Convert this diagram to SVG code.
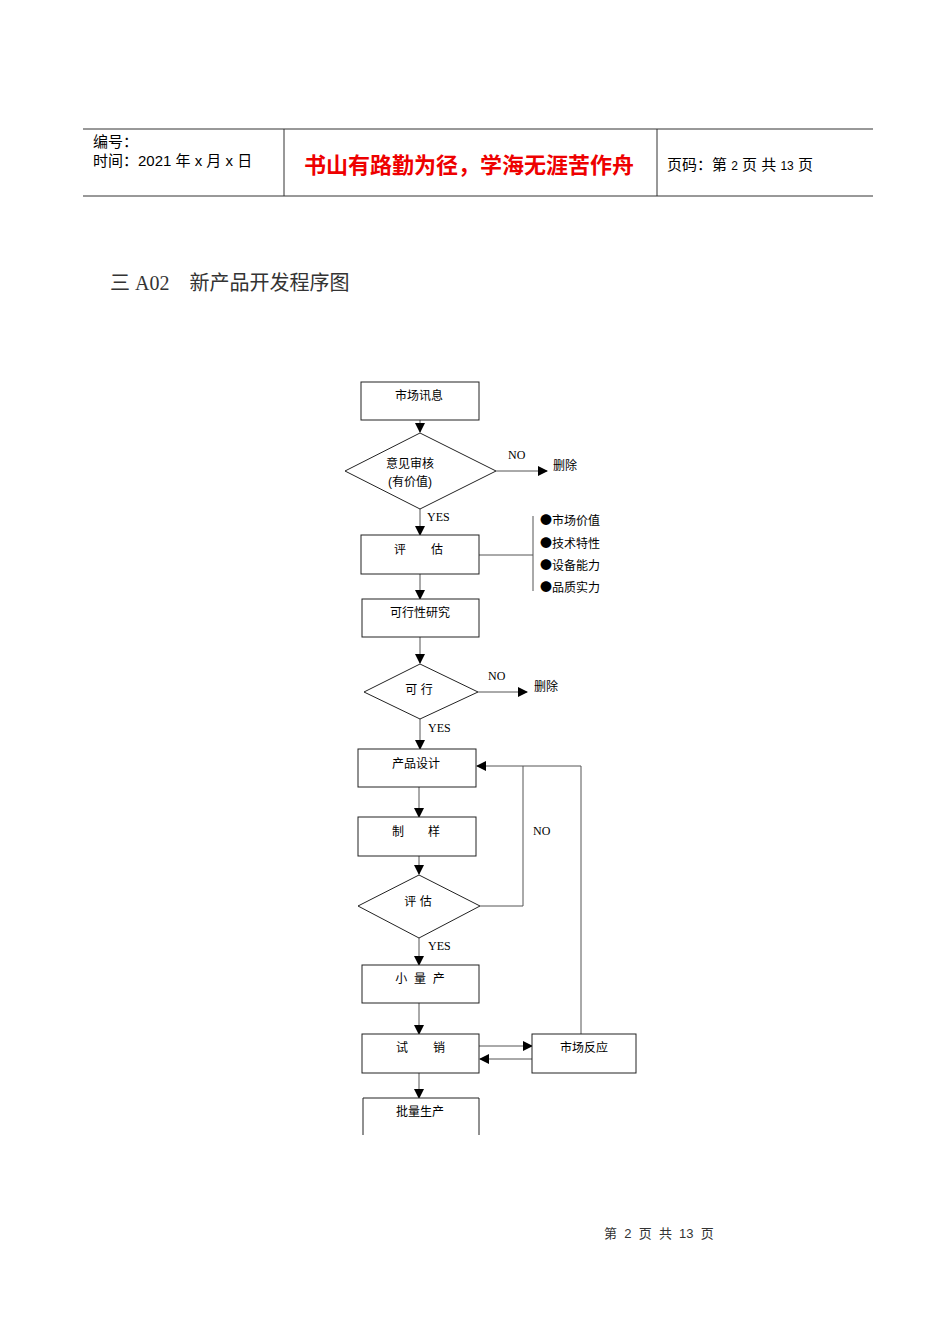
<svg xmlns="http://www.w3.org/2000/svg" width="950" height="1344" viewBox="0 0 950 1344">
<style>
.t{font-family:"Liberation Sans","Noto Sans CJK SC",sans-serif;font-size:12px;fill:#000}
.s{font-family:"Liberation Serif","Noto Sans CJK SC",serif;font-size:12px;fill:#000}
.b{fill:#fff;stroke:#222;stroke-width:1}
.c{fill:none;stroke:#555;stroke-width:1}
.h{stroke:#333;stroke-width:1}
.bl{font-family:"Noto Sans CJK SC",sans-serif;font-size:12px}
</style>
<defs><marker id="a" markerWidth="10" markerHeight="10" refX="9" refY="5" orient="auto" markerUnits="userSpaceOnUse"><path d="M0,0 L10,5 L0,10 z" fill="#000"/></marker></defs>
<rect width="950" height="1344" fill="#fff"/>
<g id="header">
<line class="h" x1="83" y1="129" x2="873" y2="129"/>
<line class="h" x1="83" y1="196" x2="873" y2="196"/>
<line class="h" x1="284" y1="129" x2="284" y2="196"/>
<line class="h" x1="657" y1="129" x2="657" y2="196"/>
<text class="t" x="93" y="147" style="font-size:15px">编号：</text>
<text class="t" x="93" y="166" style="font-size:15px">时间：2021 年 x 月 x 日</text>
<text class="t" x="304" y="173" style="font-size:22px;font-weight:bold;fill:#e00">书山有路勤为径，学海无涯苦作舟</text>
<text class="t" x="667" y="170" style="font-size:15px">页码：第 <tspan style="font-size:12px">2</tspan> 页  共 <tspan style="font-size:12px">13</tspan> 页</text>
</g>
<text class="s" x="110" y="290" style="font-size:20px;fill:#333">三 A02　新产品开发程序图</text>
<g id="connectors">
<line class="c" x1="420" y1="420" x2="420" y2="432" marker-end="url(#a)"/>
<line class="c" x1="496" y1="471" x2="547" y2="471" marker-end="url(#a)"/>
<line class="c" x1="420" y1="509" x2="420" y2="535" marker-end="url(#a)"/>
<line class="c" x1="479" y1="555" x2="533" y2="555" stroke="#aaa"/>
<line class="c" x1="533" y1="516" x2="533" y2="591"/>
<line class="c" x1="420" y1="574" x2="420" y2="599" marker-end="url(#a)"/>
<line class="c" x1="420" y1="637" x2="420" y2="663" marker-end="url(#a)"/>
<line class="c" x1="478" y1="692" x2="527" y2="692" marker-end="url(#a)"/>
<line class="c" x1="420" y1="719" x2="420" y2="749" marker-end="url(#a)"/>
<line class="c" x1="419" y1="787" x2="419" y2="817" marker-end="url(#a)"/>
<line class="c" x1="419" y1="856" x2="419" y2="874" marker-end="url(#a)"/>
<polyline class="c" points="480,906 523,906 523,766"/>
<polyline class="c" points="581,1034 581,766 477,766" marker-end="url(#a)"/>
<line class="c" x1="419" y1="938" x2="419" y2="965" marker-end="url(#a)"/>
<line class="c" x1="419" y1="1003" x2="419" y2="1034" marker-end="url(#a)"/>
<line class="c" x1="479" y1="1046" x2="532" y2="1046" marker-end="url(#a)"/>
<line class="c" x1="532" y1="1059" x2="480" y2="1059" marker-end="url(#a)"/>
<line class="c" x1="419" y1="1073" x2="419" y2="1098" marker-end="url(#a)"/>
<text class="s" x="508" y="459">NO</text>
<text class="s" x="427" y="521">YES</text>
<text class="s" x="488" y="680">NO</text>
<text class="s" x="428" y="732">YES</text>
<text class="s" x="533" y="835">NO</text>
<text class="s" x="428" y="950">YES</text>
<text class="t" x="553" y="470">删除</text>
<text class="t" x="534" y="691">删除</text>
</g>
<g id="n1"><rect class="b" x="361" y="382" width="118" height="38"/><text class="t" x="419" y="400" text-anchor="middle">市场讯息</text></g>
<g id="n2"><polygon class="b" points="345,471 420,433 496,471 420,509"/><text class="t" x="410" y="468" text-anchor="middle">意见审核</text><text class="t" x="410" y="486" text-anchor="middle">(有价值)</text></g>
<g id="n3"><rect class="b" x="361" y="535" width="118" height="39"/><text class="t" x="394" y="554">评</text><text class="t" x="431" y="554">估</text></g>
<g id="notes"><text class="t" x="540" y="525"><tspan class="bl">●</tspan>市场价值</text><text class="t" x="540" y="548"><tspan class="bl">●</tspan>技术特性</text><text class="t" x="540" y="570"><tspan class="bl">●</tspan>设备能力</text><text class="t" x="540" y="592"><tspan class="bl">●</tspan>品质实力</text></g>
<g id="n4"><rect class="b" x="362" y="599" width="117" height="38"/><text class="t" x="420" y="617" text-anchor="middle">可行性研究</text></g>
<g id="n5"><polygon class="b" points="364,692 420,664 478,692 420,719"/><text class="t" x="419" y="694" text-anchor="middle">可 行</text></g>
<g id="n6"><rect class="b" x="358" y="749" width="118" height="38"/><text class="t" x="416" y="768" text-anchor="middle">产品设计</text></g>
<g id="n7"><rect class="b" x="358" y="817" width="118" height="39"/><text class="t" x="392" y="836">制</text><text class="t" x="428" y="836">样</text></g>
<g id="n8"><polygon class="b" points="358,906 419,875 480,906 419,938"/><text class="t" x="418" y="906" text-anchor="middle">评 估</text></g>
<g id="n9"><rect class="b" x="362" y="965" width="117" height="38"/><text class="t" x="420" y="983" text-anchor="middle" xml:space="preserve">小  量  产</text></g>
<g id="n10"><rect class="b" x="362" y="1034" width="117" height="39"/><text class="t" x="396" y="1052">试</text><text class="t" x="433" y="1052">销</text></g>
<g id="n11"><rect class="b" x="532" y="1034" width="104" height="39"/><text class="t" x="584" y="1052" text-anchor="middle">市场反应</text></g>
<g id="n12"><path class="b" d="M363,1135 V1098 H479 V1135"/><text class="t" x="420" y="1116" text-anchor="middle">批量生产</text></g>
<text class="t" x="604" y="1238" style="font-size:13px;fill:#333" xml:space="preserve">第  2  页  共  13  页</text>
</svg>
